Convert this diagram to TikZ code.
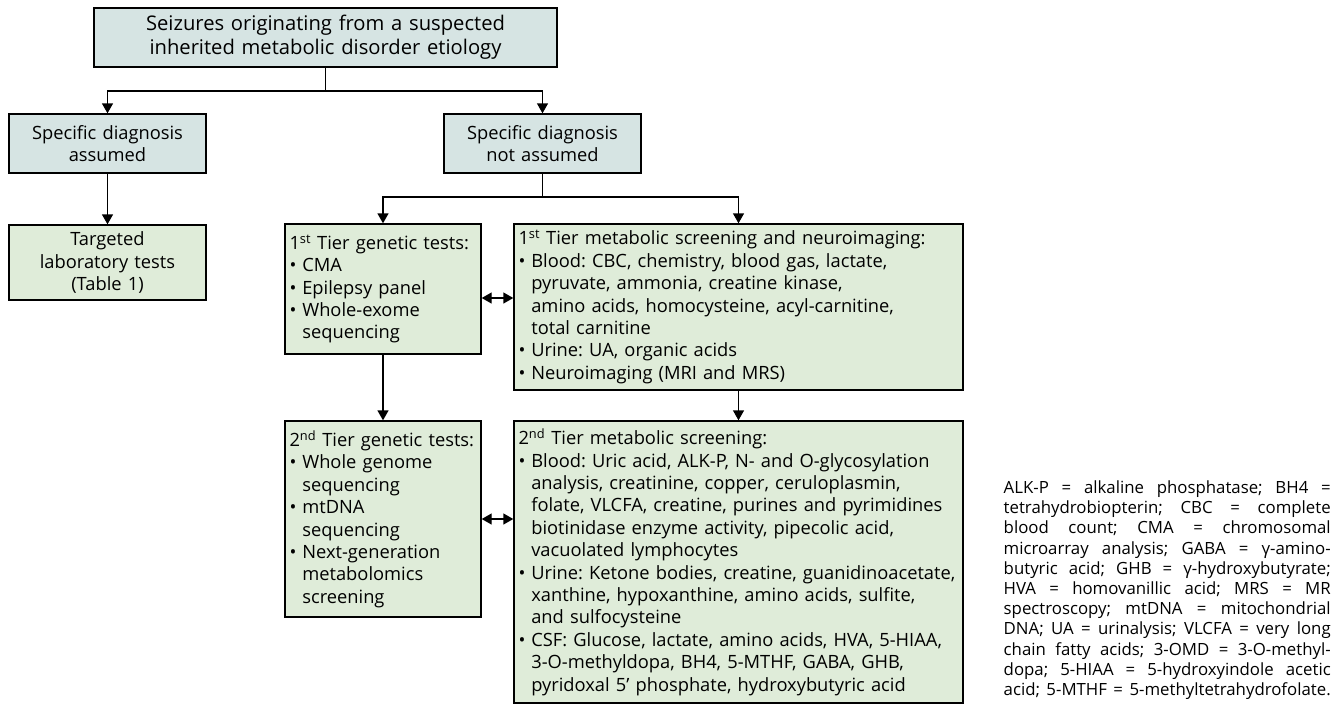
\documentclass[tikz,border=0pt]{standalone}
\usepackage{fontspec}
\setmainfont{Open Sans}
\usetikzlibrary{arrows.meta}
\definecolor{headblue}{RGB}{214,228,227}
\definecolor{testgreen}{RGB}{223,236,217}
\newcommand\bul{\makebox[0.7em][l]{•}}
\newcommand\ind{\hspace*{0.7em}}
\newcommand\jline[1]{\makebox[327pt][s]{#1}}
\frenchspacing

\begin{document}
\begin{tikzpicture}[x=1pt,y=-1pt,>={Triangle[width=11pt,length=10pt]},line width=1.4pt,
    box/.style={draw,inner xsep=4.5pt,inner ysep=0pt,font=\fontsize{18.3}{22.4}\selectfont},
    headbox/.style={box,fill=headblue,align=center},
    testbox/.style={box,fill=testgreen,align=left},
    legend/.style={anchor=north west,inner sep=0pt,align=left,font=\fontsize{16.8}{20.2}\selectfont}]
  \useasboundingbox (0,0) rectangle (1334,705);
  % header boxes
  \node[headbox,text width=454pt,minimum height=59pt,font=\fontsize{20.2}{24}\selectfont] (seiz) at (325.5,37.5)
    {Seizures originating from a suspected\\inherited metabolic disorder etiology};
  \node[headbox,text width=188pt,minimum height=59pt] (assum) at (107.5,143.5) {Specific diagnosis\\assumed};
  \node[headbox,text width=188pt,minimum height=59pt] (notass) at (542.5,143.5) {Specific diagnosis\\not assumed};
  % test boxes
  \node[testbox,align=center,text width=188pt,minimum height=75pt] (target) at (107.5,262.5)
    {Targeted\\laboratory tests\\(Table 1)};
  \node[testbox,text width=187pt,minimum height=130pt] (gen1) at (383,289)
    {1\textsuperscript{st} Tier genetic tests:\\
     \bul CMA\\
     \bul Epilepsy panel\\
     \bul Whole-exome\\
     \ind sequencing};
  \node[testbox,text width=440pt,minimum height=166pt] (met1) at (738.5,307)
    {1\textsuperscript{st} Tier metabolic screening and neuroimaging:\\
     \bul Blood: CBC, chemistry, blood gas, lactate,\\
     \ind pyruvate, ammonia, creatine kinase,\\
     \ind amino acids, homocysteine, acyl-carnitine,\\
     \ind total carnitine\\
     \bul Urine: UA, organic acids\\
     \bul Neuroimaging (MRI and MRS)};
  \node[testbox,text width=187pt,minimum height=196pt] (gen2) at (383,519)
    {2\textsuperscript{nd} Tier genetic tests:\\
     \bul Whole genome\\
     \ind sequencing\\
     \bul mtDNA\\
     \ind sequencing\\
     \bul Next-generation\\
     \ind metabolomics\\
     \ind screening};
  \node[testbox,text width=440pt,minimum height=282pt] (met2) at (738.5,562)
    {2\textsuperscript{nd} Tier metabolic screening:\\
     \bul Blood: Uric acid, ALK-P, N- and O-glycosylation\\
     \ind analysis, creatinine, copper, ceruloplasmin,\\
     \ind folate, VLCFA, creatine, purines and pyrimidines\\
     \ind biotinidase enzyme activity, pipecolic acid,\\
     \ind vacuolated lymphocytes\\
     \bul Urine: Ketone bodies, creatine, guanidinoacetate,\\
     \ind xanthine, hypoxanthine, amino acids, sulfite,\\
     \ind and sulfocysteine\\
     \bul CSF: Glucose, lactate, amino acids, HVA, 5-HIAA,\\
     \ind 3-O-methyldopa, BH4, 5-MTHF, GABA, GHB,\\
     \ind pyridoxal 5’ phosphate, hydroxybutyric acid};
  % abbreviations
  \node[legend] (abbr) at (1003,480)
    {\jline{ALK-P = alkaline phosphatase; BH4 =}\\
     \jline{tetrahydrobiopterin; CBC = complete}\\
     \jline{blood count; CMA = chromosomal}\\
     \jline{microarray analysis; GABA = γ-amino-}\\
     \jline{butyric acid; GHB = γ-hydroxybutyrate;}\\
     \jline{HVA = homovanillic acid; MRS = MR}\\
     \jline{spectroscopy; mtDNA = mitochondrial}\\
     \jline{DNA; UA = urinalysis; VLCFA = very long}\\
     \jline{chain fatty acids; 3-OMD = 3-O-methyl-}\\
     \jline{dopa; 5-HIAA = 5-hydroxyindole acetic}\\
     \jline{acid; 5-MTHF = 5-methyltetrahydrofolate.}};
  % connectors
  \coordinate (j1) at (325.5,91);
  \coordinate (j2) at (542.5,197);
  \coordinate (m1) at (0,298);
  \draw (seiz.south) -- (j1);
  \draw[->] (j1) -| (assum.north);
  \draw[->] (j1) -| (notass.north);
  \draw[->] (assum) -- (target);
  \draw (notass.south) -- (j2);
  \draw[->] (j2) -| (gen1.north);
  \draw[->] (j2) -| (met1.north);
  \draw[->] (gen1) -- (gen2);
  \draw[->] (met1) -- (met2);
  \draw[<->] (gen1.east |- m1) -- (met1.west |- m1);
  \draw[<->] (gen2.east) -- (gen2.east -| met2.west);
\end{tikzpicture}
\end{document}
